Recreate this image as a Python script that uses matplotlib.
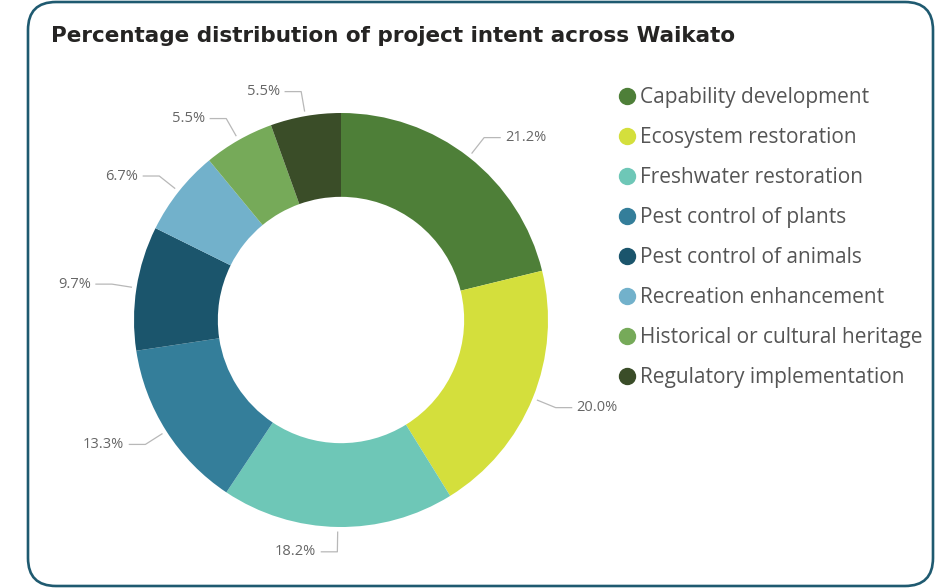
import numpy as np
import matplotlib.pyplot as plt
from matplotlib.patches import FancyBboxPatch
from matplotlib.lines import Line2D

# data
categories = ["Capability development", "Ecosystem restoration", "Freshwater restoration",
              "Pest control of plants", "Pest control of animals", "Recreation enhancement",
              "Historical or cultural heritage", "Regulatory implementation"]
shares = [21.2, 20.0, 18.2, 13.3, 9.7, 6.7, 5.5, 5.5]
colors = ["#4e7f38", "#d4df3c", "#6ec7b7", "#347e9a", "#1b556c", "#72b1cb", "#76aa59", "#3a4d28"]

W, H = 938, 588
cx, cy, R = 341, 320, 207  # donut centre / radius in pixels

fig = plt.figure(figsize=(W / 100, H / 100), dpi=100)
ax = fig.add_axes([0, 0, 1, 1])
ax.axis("off")

def px(x, y):
    # pixel (top-left origin) -> data units
    return (x - cx) / R, (cy - y) / R

# panel border
x0, y0 = px(28, 586)
x1, y1 = px(933, 2)
pad = 28 / R
panel = FancyBboxPatch((x0 + pad, y0 + pad), x1 - x0 - 2 * pad, y1 - y0 - 2 * pad,
                       boxstyle=f"round,pad={pad}", fc="white", ec="#1f5a70", lw=1.9,
                       zorder=0)
ax.add_patch(panel)

wedges, _ = ax.pie(shares, colors=colors, startangle=90, counterclock=False,
                   radius=1.0, wedgeprops=dict(width=0.405, linewidth=0))

# labels with leader lines
total = sum(shares)
cum = 0
for val in shares:
    mid = 90 - 360 * (cum + val / 2) / total
    cum += val
    a = np.deg2rad(mid)
    sx, sy = 1.025 * np.cos(a), 1.025 * np.sin(a)
    ex, ey = 1.12 * np.cos(a), 1.12 * np.sin(a)
    side = 1 if np.cos(a) >= -0.02 and mid > -90.5 else -1
    if abs(mid + 90) < 3:
        side = -1
    hx = ex + side * 16 / R
    ax.plot([sx, ex, hx], [sy, ey, ey], color="#b8b8b8", lw=0.9, clip_on=False)
    ax.text(hx + side * 5 / R, ey, f"{val:.1f}%", ha="left" if side > 0 else "right",
            va="center", fontsize=10.5, color="#666666", family="Open Sans")

ax.set_xlim(-cx / R, (W - cx) / R)
ax.set_ylim(-(H - cy) / R, cy / R)

# title
tx, ty = px(51, 36)
ax.text(tx, ty, "Percentage distribution of project intent across Waikato",
        fontsize=15.5, fontweight="bold", color="#252423", va="center", ha="left",
        family="DejaVu Sans")

# legend
handles = [Line2D([], [], marker="o", ls="", ms=11.5, mfc=c, mec=c) for c in colors]
lx, ly = 618.5 / W, 1 - 87 / H
leg = fig.legend(handles, categories, loc="upper left", bbox_to_anchor=(lx, ly),
                 frameon=False, handlelength=0.8, handletextpad=0.22,
                 labelspacing=0.914, borderpad=0, borderaxespad=0,
                 prop={"family": "Open Sans", "size": 15})
for t in leg.get_texts():
    t.set_color("#555555")

fig.savefig("out.png", dpi=100)
